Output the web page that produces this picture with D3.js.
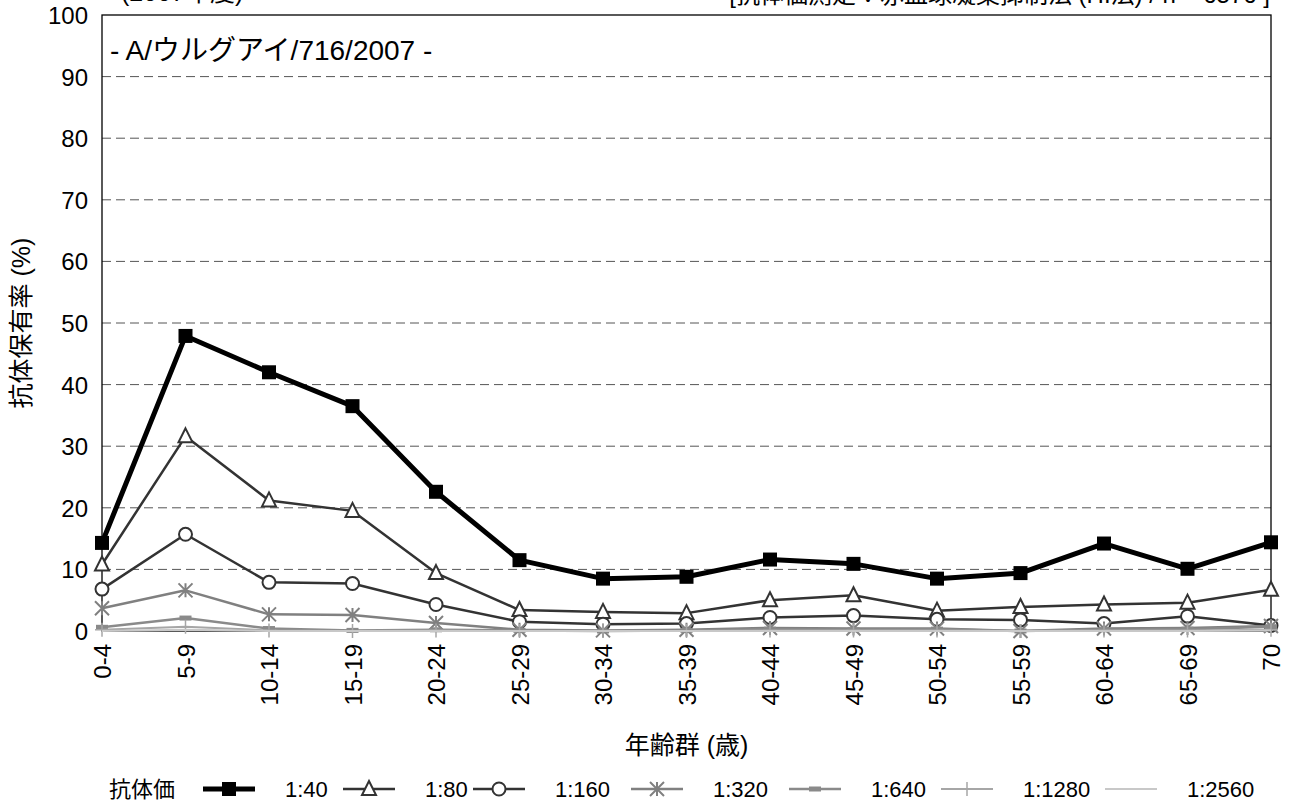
<!DOCTYPE html>
<html>
<head>
<meta charset="utf-8">
<script src="https://cdn.jsdelivr.net/npm/d3@7"></script>
<style>
  body { margin: 0; background: #fff; }
  svg text { font-family: "Liberation Sans", Arial, "Noto Sans CJK JP", sans-serif; fill: #000; }
</style>
</head>
<body>
<div id="chart"></div>
<script>
var width = 1290, height = 808;

// age groups (x categories)
var ages = ["0-4", "5-9", "10-14", "15-19", "20-24", "25-29", "30-34", "35-39",
            "40-44", "45-49", "50-54", "55-59", "60-64", "65-69", "70"];

// antibody-positive rate (%) by titer
var t40   = [14.3, 47.9, 42.0, 36.5, 22.6, 11.5, 8.5, 8.8, 11.6, 10.9, 8.5, 9.4, 14.2, 10.1, 14.4];
var t80   = [10.8, 31.6, 21.2, 19.5, 9.4, 3.4, 3.1, 2.9, 5.0, 5.8, 3.3, 3.9, 4.3, 4.6, 6.7];
var t160  = [6.8, 15.7, 7.9, 7.7, 4.3, 1.5, 1.1, 1.2, 2.2, 2.5, 1.9, 1.8, 1.2, 2.4, 0.9];
var t320  = [3.7, 6.6, 2.7, 2.6, 1.3, 0.2, 0.1, 0.2, 0.5, 0.4, 0.4, 0.0, 0.4, 0.5, 0.8];
var t640  = [0.6, 2.1, 0.4, 0.1, 0.2, 0.1, 0.0, 0.1, 0.3, 0.2, 0.3, 0.0, 0.2, 0.3, 0.7];
var t1280 = [0.2, 0.7, 0.1, 0.0, 0.1, 0.0, 0.0, 0.0, 0.1, 0.1, 0.1, 0.0, 0.1, 0.1, 0.2];
var t2560 = [0.0, 0.2, 0.0, 0.0, 0.0, 0.0, 0.0, 0.0, 0.0, 0.0, 0.0, 0.0, 0.0, 0.0, 0.1];

var titerLabels = ["1:40", "1:80", "1:160", "1:320", "1:640", "1:1280", "1:2560"];
var yTicks = [0, 10, 20, 30, 40, 50, 60, 70, 80, 90, 100];

var strain = "- A/ウルグアイ/716/2007 -";
var method = "[抗体価測定：赤血球凝集抑制法 (HI法) / n = 6576 ]";
var season = "(2007年度)";

// series look
var series = [
  {name: titerLabels[0], vals: t40,   color: "#000",    lw: 5,   mark: "square"},
  {name: titerLabels[1], vals: t80,   color: "#333",    lw: 2.5, mark: "triangle"},
  {name: titerLabels[2], vals: t160,  color: "#333",    lw: 2.5, mark: "circle"},
  {name: titerLabels[3], vals: t320,  color: "#808080", lw: 2.5, mark: "star"},
  {name: titerLabels[4], vals: t640,  color: "#8a8a8a", lw: 2.5, mark: "dash"},
  {name: titerLabels[5], vals: t1280, color: "#a6a6a6", lw: 2,   mark: "plus"},
  {name: titerLabels[6], vals: t2560, color: "#c8c8c8", lw: 2,   mark: "none"}
];

var m = {left: 102, right: 1271, top: 15, bottom: 631};

var x = d3.scalePoint()
  .domain(ages)
  .range([m.left, m.right]);

var y = d3.scaleLinear()
  .domain([0, 100])
  .range([m.bottom, m.top]);

var svg = d3.select("#chart")
  .append("svg")
  .attr("width", width)
  .attr("height", height);

// gridlines (dashed)
svg.append("g")
  .selectAll("line")
  .data(yTicks.filter(function(d) { return d > 0 && d < 100; }))
  .enter().append("line")
  .attr("x1", m.left).attr("x2", m.right)
  .attr("y1", function(d) { return y(d); })
  .attr("y2", function(d) { return y(d); })
  .attr("stroke", "#555")
  .attr("stroke-width", 1)
  .attr("stroke-dasharray", "9,5");

// frame
svg.append("rect")
  .attr("x", m.left).attr("y", m.top)
  .attr("width", m.right - m.left).attr("height", m.bottom - m.top)
  .attr("fill", "none")
  .attr("stroke", "#000")
  .attr("stroke-width", 1.3);

// y axis labels
var yAxis = d3.axisLeft(y).tickValues(yTicks).tickSize(0).tickPadding(14);
svg.append("g")
  .attr("transform", "translate(" + m.left + ",0)")
  .call(yAxis)
  .call(function(g) { g.select(".domain").remove(); })
  .selectAll("text")
  .style("font-size", "24px")
  .attr("dy", "0.35em");

// x axis labels (rotated)
var xAxis = d3.axisBottom(x).tickSize(0).tickPadding(0);
svg.append("g")
  .attr("transform", "translate(0," + m.bottom + ")")
  .call(xAxis)
  .call(function(g) { g.select(".domain").remove(); })
  .selectAll("text")
  .style("font-size", "24px")
  .attr("text-anchor", "end")
  .attr("transform", "rotate(-90)")
  .attr("x", -13)
  .attr("y", 0)
  .attr("dy", "0.36em");

// axis titles
svg.append("text")
  .attr("x", (m.left + m.right) / 2)
  .attr("y", 754)
  .attr("text-anchor", "middle")
  .style("font-size", "25px")
  .text("年齢群 (歳)");

svg.append("text")
  .attr("transform", "translate(30," + ((m.top + m.bottom) / 2) + ") rotate(-90)")
  .attr("text-anchor", "middle")
  .style("font-size", "25px")
  .text("抗体保有率 (%)");

// texts at top (partly cut off by the page edge, as in the source)
svg.append("text")
  .attr("x", 110).attr("y", 60)
  .style("font-size", "28px")
  .text(strain);

svg.append("text")
  .attr("x", 1270).attr("y", 3)
  .attr("text-anchor", "end")
  .style("font-size", "24px")
  .text(method);

svg.append("text")
  .attr("x", 121).attr("y", 1)
  .style("font-size", "25px")
  .text(season);

// markers
function drawMarker(g, type, color, size) {
  var h = size / 2;
  if (type === "square") {
    g.append("rect").attr("x", -h).attr("y", -h).attr("width", size).attr("height", size)
      .attr("fill", color);
  } else if (type === "triangle") {
    g.append("path").attr("d", "M0," + (-h - 1) + "L" + h + "," + (h - 1) + "L" + (-h) + "," + (h - 1) + "Z")
      .attr("fill", "#fff").attr("stroke", color).attr("stroke-width", 2);
  } else if (type === "circle") {
    g.append("circle").attr("r", h - 1)
      .attr("fill", "#fff").attr("stroke", color).attr("stroke-width", 2);
  } else if (type === "star") {
    g.append("path").attr("d", "M0," + (-h) + "V" + h + "M" + (-h) + "," + (-h) + "L" + h + "," + h + "M" + h + "," + (-h) + "L" + (-h) + "," + h)
      .attr("stroke", color).attr("stroke-width", 2);
  } else if (type === "dash") {
    g.append("rect").attr("x", -h).attr("y", -2.5).attr("width", size).attr("height", 5)
      .attr("fill", color);
  } else if (type === "plus") {
    g.append("path").attr("d", "M0," + (-h) + "V" + h + "M" + (-h) + ",0H" + h)
      .attr("stroke", color).attr("stroke-width", 1.5);
  }
}

var line = d3.line()
  .x(function(d, i) { return x(ages[i]); })
  .y(function(d) { return y(d); });

var markSize = {square: 14, triangle: 14, circle: 15, star: 14, dash: 12, plus: 14, none: 0};

series.forEach(function(s) {
  var g = svg.append("g").attr("class", "series");
  g.append("path")
    .datum(s.vals)
    .attr("d", line)
    .attr("fill", "none")
    .attr("stroke", s.color)
    .attr("stroke-width", s.lw)
    .attr("stroke-linejoin", "round");
  if (s.mark !== "none") {
    g.selectAll("g.pt")
      .data(s.vals)
      .enter().append("g")
      .attr("class", "pt")
      .attr("transform", function(d, i) { return "translate(" + x(ages[i]) + "," + y(d) + ")"; })
      .each(function() { drawMarker(d3.select(this), s.mark, s.color, markSize[s.mark]); });
  }
});

// legend
var legY = 789;
var legend = svg.append("g");
legend.append("text")
  .attr("x", 109).attr("y", legY).attr("dy", "0.36em")
  .style("font-size", "22px")
  .text("抗体価");

var legX = [203, 343, 473, 631, 789, 941, 1105];
series.forEach(function(s, i) {
  var lg = legend.append("g").attr("transform", "translate(" + legX[i] + "," + legY + ")");
  lg.append("line").attr("x1", 0).attr("x2", 52)
    .attr("stroke", s.color).attr("stroke-width", s.lw);
  if (s.mark !== "none") {
    var mg = lg.append("g").attr("transform", "translate(26,0)");
    drawMarker(mg, s.mark, s.color, markSize[s.mark]);
  }
  lg.append("text")
    .attr("x", 82).attr("dy", "0.36em")
    .style("font-size", "22px")
    .text(s.name);
});
</script>
</body>
</html>
